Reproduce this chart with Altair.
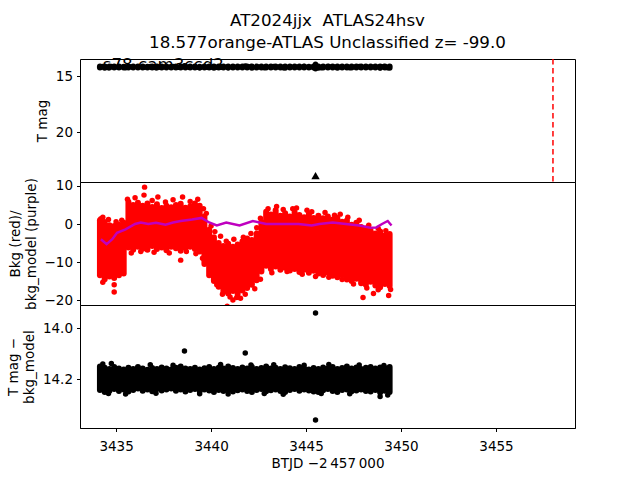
import altair as alt
import pandas as pd

FONT = "DejaVu Sans"

title_lines = ["AT2024jjx\u00a0 ATLAS24hsv", "18.577orange-ATLAS Unclassified z= -99.0"]
sector_label = "s78 cam3ccd2"
x_title = "BTJD \u22122\u2009457\u2009000"

x_domain = [3433.1, 3459.16]
x_ticks = [3435, 3440, 3445, 3450, 3455]

# sample positions of the dense point clouds (BTJD - 2457000)
band_x = [3434.15, 3434.4, 3434.65, 3434.9, 3435.15, 3435.4, 3435.65, 3435.9, 3436.15, 3436.4,
          3436.65, 3436.9, 3437.15, 3437.4, 3437.65, 3437.9, 3438.15, 3438.4, 3438.65, 3438.9,
          3439.15, 3439.4, 3439.65, 3439.9, 3440.15, 3440.4, 3440.65, 3440.9, 3441.15, 3441.4,
          3441.65, 3441.9, 3442.15, 3442.4, 3442.65, 3442.9, 3443.15, 3443.4, 3443.65, 3443.9,
          3444.15, 3444.4, 3444.65, 3444.9, 3445.15, 3445.4, 3445.65, 3445.9, 3446.15, 3446.4,
          3446.65, 3446.9, 3447.15, 3447.4, 3447.65, 3447.9, 3448.15, 3448.4, 3448.65, 3448.9,
          3449.15, 3449.4]

# T mag cloud: brightest / faintest points per sample
mag_bright = [14.150, 14.155, 14.160, 14.152, 14.158, 14.162, 14.155, 14.160, 14.152, 14.158,
              14.163, 14.156, 14.160, 14.154, 14.158, 14.162, 14.155, 14.150, 14.158, 14.160,
              14.155, 14.162, 14.157, 14.152, 14.160, 14.155, 14.158, 14.150, 14.156, 14.160,
              14.154, 14.158, 14.152, 14.160, 14.156, 14.150, 14.158, 14.155, 14.160, 14.153,
              14.157, 14.160, 14.152, 14.158, 14.162, 14.156, 14.160, 14.154, 14.158, 14.152,
              14.160, 14.156, 14.150, 14.158, 14.154, 14.160, 14.155, 14.152, 14.158, 14.154,
              14.156, 14.152]
mag_faint = [14.242, 14.250, 14.245, 14.238, 14.246, 14.240, 14.248, 14.242, 14.236, 14.245,
             14.240, 14.247, 14.238, 14.244, 14.240, 14.236, 14.245, 14.240, 14.248, 14.242,
             14.238, 14.246, 14.240, 14.244, 14.250, 14.242, 14.246, 14.240, 14.248, 14.243,
             14.240, 14.246, 14.250, 14.242, 14.238, 14.247, 14.243, 14.240, 14.246, 14.250,
             14.242, 14.238, 14.245, 14.240, 14.244, 14.248, 14.250, 14.243, 14.238, 14.246,
             14.250, 14.242, 14.240, 14.247, 14.244, 14.240, 14.246, 14.248, 14.242, 14.252,
             14.245, 14.250]
# individual points outside / on the edge of the T mag cloud
mag_out_x = [3445.5, 3438.6, 3441.8, 3445.5, 3448.9, 3434.75,
             3434.3, 3436.8, 3438.0, 3440.5, 3442.1, 3443.3, 3444.9, 3446.2, 3447.8, 3449.1,
             3434.6, 3435.5, 3437.1, 3439.4, 3440.9, 3442.8, 3443.8, 3445.8, 3447.3, 3449.3]
mag_out_y = [13.94, 14.089, 14.097, 14.36, 14.268, 14.138,
             14.140, 14.143, 14.145, 14.142, 14.144, 14.143, 14.145, 14.142, 14.144, 14.146,
             14.256, 14.258, 14.255, 14.257, 14.258, 14.256, 14.259, 14.256, 14.257, 14.262]

limit_x = [3445.5]
limit_y = [23.9]
discovery_x = [3458.0]

# background flux cloud: highest / lowest points per sample
bkg_hi = [1.0, 0.5, -0.3, -0.5, -0.2, 0.3, 5.8, 5.0, 5.6, 4.8,
          5.4, 4.5, 5.2, 4.2, 4.8, 4.4, 5.0, 5.3, 4.3, 4.6,
          5.4, 4.8, 2.0, -1.5, -3.5, -5.0, -5.8, -5.2, -6.0, -5.4,
          -4.6, -3.8, -4.2, -2.5, 0.5, 3.2, 2.5, 3.6, 2.2, 2.8,
          2.0, 3.0, 2.4, 1.8, 2.6, 1.6, 2.2, 1.5, 2.0, 1.2,
          1.6, 0.6, 0.9, -0.2, 0.3, -0.8, -1.2, -1.8, -2.5, -2.0,
          -3.0, -2.6]
bkg_lo = [-13.5, -14.5, -13.8, -14.2, -13.5, -13.0, -6.2, -6.8, -6.0, -6.5,
          -6.8, -5.8, -6.6, -6.2, -6.9, -6.0, -6.4, -7.0, -6.3, -6.0,
          -6.6, -7.2, -10.5, -13.5, -15.0, -16.5, -17.8, -18.3, -17.6, -18.4,
          -17.5, -16.8, -16.0, -14.8, -12.5, -11.0, -11.8, -11.2, -12.0, -11.5,
          -12.2, -11.8, -12.6, -12.0, -12.8, -12.3, -13.0, -13.4, -12.8, -13.6,
          -14.0, -13.5, -14.6, -15.0, -14.4, -15.6, -16.0, -15.2, -16.2, -16.6,
          -15.8, -16.3]
# individual background points outside / on the edge of the cloud
bkg_out_x = [3436.5, 3436.47, 3437.2, 3438.5, 3438.4, 3434.3, 3434.9, 3434.9, 3441.15, 3441.55,
             3443.45, 3444.3, 3445.05, 3446.8, 3448.0, 3448.55, 3449.35, 3440.85, 3434.2,
             3435.6, 3436.0, 3436.9, 3437.6, 3438.0, 3438.9, 3439.3, 3439.6, 3439.75,
             3435.8, 3436.3, 3437.0, 3437.8, 3438.7, 3439.2, 3439.55,
             3434.3, 3434.6, 3435.0, 3435.3,
             3440.0, 3440.2, 3440.5, 3440.8, 3441.2, 3441.7, 3442.1, 3442.4, 3442.6,
             3440.3, 3440.6, 3441.0, 3441.35, 3441.8, 3442.3, 3442.6,
             3443.0, 3443.8, 3444.5, 3445.3, 3446.0, 3446.5, 3447.2, 3447.8, 3448.3, 3448.8, 3449.2,
             3443.2, 3444.0, 3444.8, 3445.5, 3446.2, 3446.9, 3447.5, 3448.2, 3448.8, 3449.45]
bkg_out_y = [9.7, 7.6, 7.1, 7.1, -9.5, -15.3, -16.0, -17.9, -20.0, -19.5,
             4.6, 4.0, 3.6, 2.6, -19.3, -18.3, -18.8, -21.6, 1.4,
             6.5, 6.9, 6.2, 5.8, 6.4, 5.9, 6.5, 4.0, 2.8,
             -7.6, -7.2, -7.4, -7.6, -7.2, -7.8, -9.0,
             1.8, 1.2, 0.6, 1.0,
             -0.5, -2.0, -3.2, -4.5, -4.0, -3.5, -2.5, -1.0, 1.5,
             -16.0, -18.5, -19.2, -19.3, -18.5, -17.0, -14.5,
             4.0, 3.8, 4.2, 3.2, 3.0, 2.3, 1.8, 1.0, -0.3, -1.2, -1.8,
             -12.8, -12.5, -13.2, -13.8, -14.0, -14.6, -15.8, -16.8, -17.3, -17.2]

model_x = [3434.2, 3434.5, 3434.8, 3435.05, 3435.5, 3436.0, 3436.3, 3436.7, 3437.1, 3437.6,
           3438.0, 3438.4, 3439.0, 3439.5, 3439.9, 3440.3, 3440.8, 3441.5, 3442.2, 3442.9,
           3443.7, 3444.6, 3445.3, 3445.7, 3446.4, 3447.1, 3447.8, 3448.4, 3448.7, 3449.0,
           3449.3, 3449.5]
model_y = [-4.0, -5.3, -4.0, -2.3, -1.4, 0.0, 0.4, 0.0, 0.3, -0.2,
           0.4, 0.8, 1.2, 1.6, 0.4, -0.4, 0.4, -0.4, 0.8, 0.0,
           0.0, 0.0, -0.4, 0.0, 0.4, 0.0, -0.4, -1.0, -0.9, 0.0,
           0.8, -0.4]

PANEL_W = 495
PANEL_H = 123
MS = 30        # marker area
BAND_W = 6     # marker diameter used for the cloud columns

xscale = alt.Scale(domain=x_domain, nice=False, zero=False)
x_noaxis = alt.X("x:Q", scale=xscale, axis=None)
x_axis = alt.X("x:Q", scale=xscale,
               axis=alt.Axis(values=x_ticks, format="d", title=x_title,
                             labelPadding=8, titlePadding=3))


def yenc(domain, ticks, title, reverse=False, fmt=None):
    ax_kwargs = dict(values=ticks, title=title)
    if fmt:
        ax_kwargs["format"] = fmt
    return alt.Y("y:Q", scale=alt.Scale(domain=domain, nice=False, zero=False, reverse=reverse),
                 axis=alt.Axis(**ax_kwargs))


band_df = pd.DataFrame({"x": band_x, "y": mag_bright, "y2": mag_faint})
mag_out_df = pd.DataFrame({"x": mag_out_x, "y": mag_out_y})

# ---------- top panel: T mag ----------
y_top = yenc([13.48, 24.46], [15, 20], "T mag", reverse=True)
top = alt.layer(
    alt.Chart(pd.DataFrame({"x": [3434.3], "y": [14.45], "t": [sector_label]}))
    .mark_text(align="left", baseline="alphabetic", fontSize=16.7, font=FONT, color="black")
    .encode(x=x_noaxis, y=y_top, text="t:N"),
    alt.Chart(band_df).mark_rule(strokeWidth=BAND_W, strokeCap="round", color="black")
    .encode(x=x_noaxis, y=y_top, y2="y2:Q"),
    alt.Chart(mag_out_df).mark_circle(size=MS, color="black", opacity=1)
    .encode(x=x_noaxis, y=y_top),
    alt.Chart(pd.DataFrame({"x": limit_x, "y": limit_y}))
    .mark_point(shape="triangle-up", filled=True, size=70, color="black", opacity=1)
    .encode(x=x_noaxis, y=y_top),
    alt.Chart(pd.DataFrame({"x": discovery_x}))
    .mark_rule(color="red", strokeDash=[5.5, 3.5], strokeWidth=1.5)
    .encode(x=x_noaxis),
).properties(
    width=PANEL_W, height=PANEL_H,
    title=alt.TitleParams(text=title_lines, fontSize=16.7, font=FONT, fontWeight="normal",
                          anchor="middle", frame="group", lineHeight=22, color="black", offset=5),
)

# ---------- middle panel: background ----------
y_mid = yenc([-21.3, 11.05], [-20, -10, 0, 10], ["Bkg (red)/", "bkg_model (purple)"])
bkg_df = pd.DataFrame({"x": band_x, "y": bkg_hi, "y2": bkg_lo})
mid = alt.layer(
    alt.Chart(bkg_df).mark_rule(strokeWidth=BAND_W, strokeCap="round", color="#ff0000", clip=True)
    .encode(x=x_noaxis, y=y_mid, y2="y2:Q"),
    alt.Chart(pd.DataFrame({"x": bkg_out_x, "y": bkg_out_y}))
    .mark_circle(size=MS, color="#ff0000", opacity=1, clip=True)
    .encode(x=x_noaxis, y=y_mid),
    alt.Chart(pd.DataFrame({"x": model_x, "y": model_y}))
    .mark_line(color="#bf00bf", strokeWidth=2.5)
    .encode(x=x_noaxis, y=y_mid),
).properties(width=PANEL_W, height=PANEL_H)

# ---------- bottom panel: T mag - bkg_model ----------
y_bot = yenc([13.909, 14.391], [14.0, 14.2], ["T mag \u2212", "bkg_model"], reverse=True, fmt=".1f")
bot = alt.layer(
    alt.Chart(band_df).mark_rule(strokeWidth=BAND_W, strokeCap="round", color="black")
    .encode(x=x_axis, y=y_bot, y2="y2:Q"),
    alt.Chart(mag_out_df).mark_circle(size=MS, color="black", opacity=1, clip=True)
    .encode(x=x_axis, y=y_bot),
).properties(width=PANEL_W, height=PANEL_H)

chart = alt.vconcat(top, mid, bot, spacing=0, bounds="flush").properties(
    padding={"left": 5, "top": 12, "right": 5, "bottom": 5},
).configure_view(
    stroke="black", strokeWidth=1
).configure_axis(
    labelFont=FONT, titleFont=FONT, labelFontSize=13.5, titleFontSize=13.5,
    titleFontWeight="normal", labelColor="black", titleColor="black",
    tickColor="black", tickSize=3.5, tickWidth=1, domainColor="black",
    grid=False, labelPadding=4, titlePadding=6, titleLineHeight=16,
).configure_axisY(
    domain=False
)

chart.save("out.html", embed_options={"renderer": "svg", "actions": False})
